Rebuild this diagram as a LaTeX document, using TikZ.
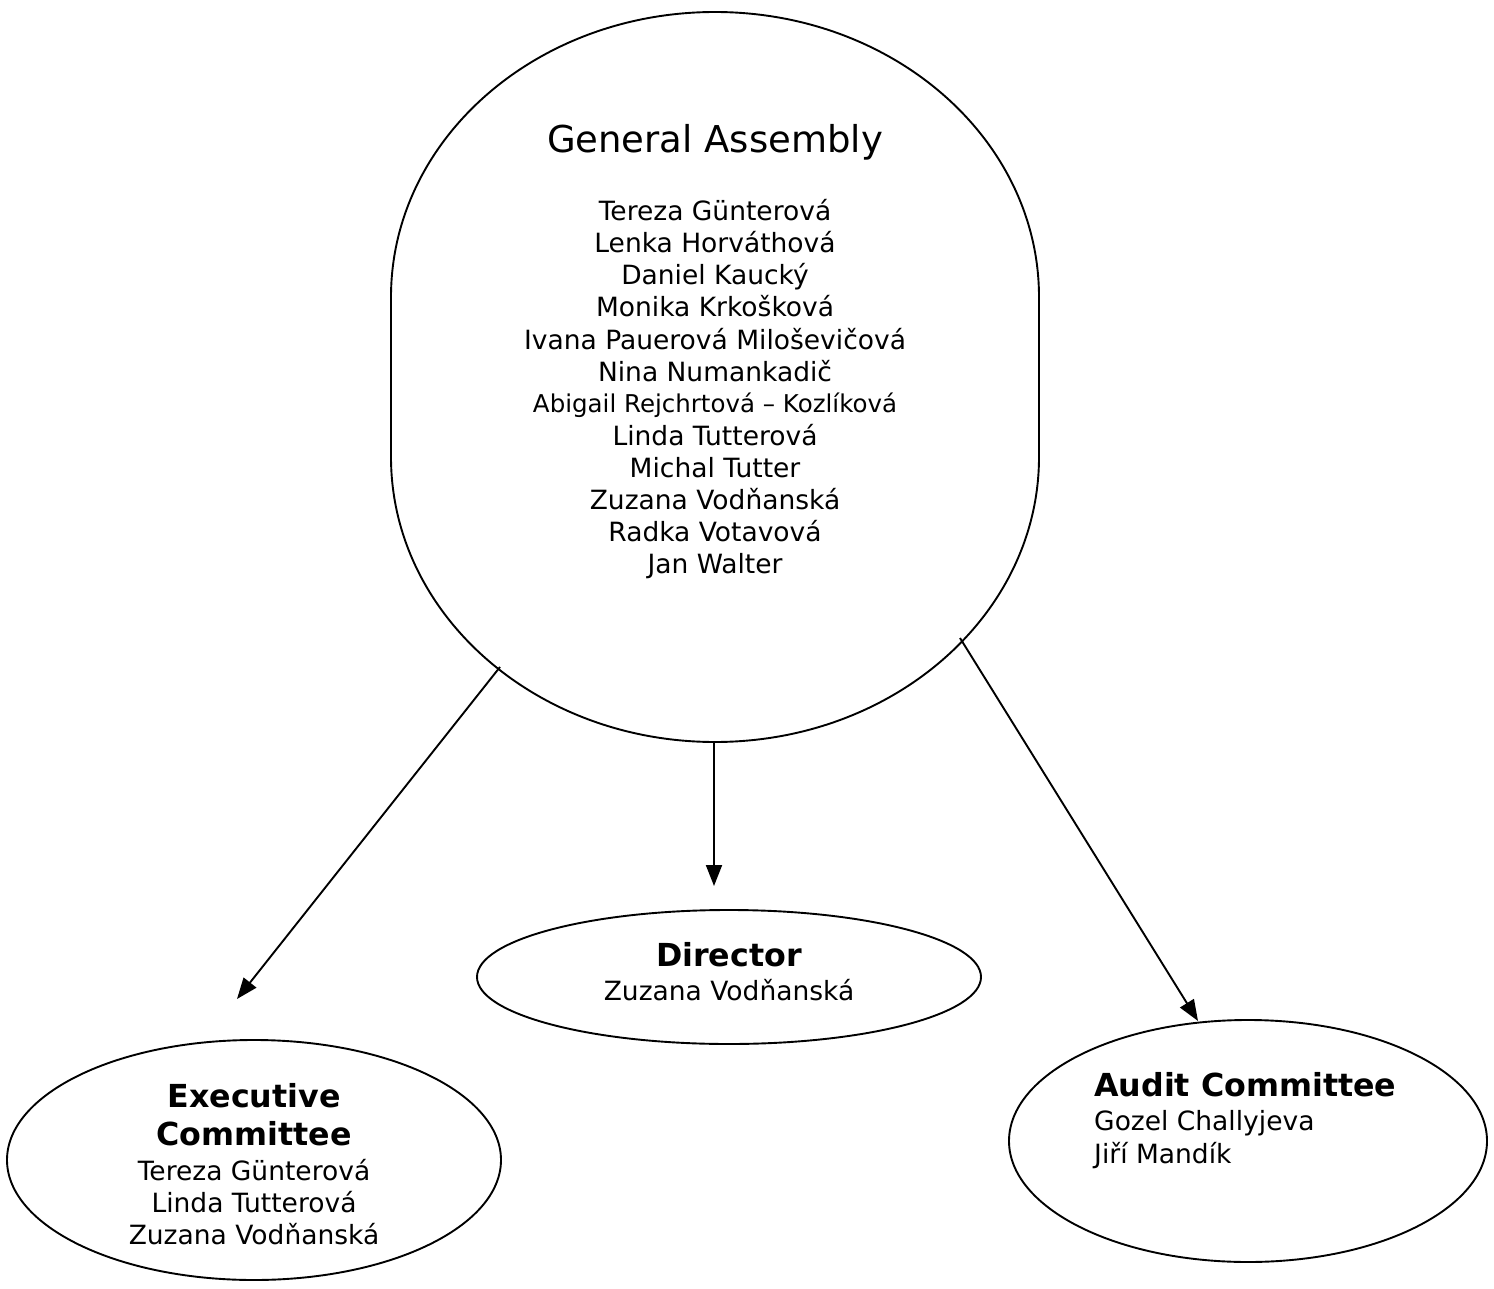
\documentclass[tikz,border=0pt]{standalone}
\usepackage{fontspec}
\setmainfont{DejaVu Sans}
\usetikzlibrary{arrows.meta}
\tikzset{
  outline/.style={draw=black, line width=1.9pt},
  conn/.style={draw=black, line width=1.9pt, -{Triangle[length=21pt,width=16pt]}},
  nm/.style={anchor=base, inner sep=0pt, font=\fontsize{26.5}{32}\selectfont},
  smallnm/.style={anchor=base, inner sep=0pt, font=\fontsize{24.5}{29}\selectfont},
  ttl/.style={anchor=base, inner sep=0pt, font=\fontsize{37}{44}\selectfont},
  hd/.style={anchor=base, inner sep=0pt, font=\fontsize{31.7}{38}\selectfont\bfseries},
}
\begin{document}
\begin{tikzpicture}[x=1pt, y=-1pt]
\useasboundingbox (0,0) rectangle (1494,1289);
% General Assembly shape
\draw[outline] (391,297) arc[start angle=180, end angle=360, x radius=324, y radius=285]
  -- (1039,457) arc[start angle=0, end angle=180, x radius=324, y radius=285] -- cycle;
\coordinate (gaL) at (500,667);
\coordinate (gaM) at (714,742);
\coordinate (gaR) at (960,638);

\node[ttl] (gatitle) at (715,153) {General Assembly};
\node[nm] (ga1) at (715,221) {Tereza Günterová};
\node[nm] (ga2) at (715,253) {Lenka Horváthová};
\node[nm] (ga3) at (715,285) {Daniel Kaucký};
\node[nm] (ga4) at (715,317) {Monika Krkošková};
\node[nm] (ga5) at (715,349) {Ivana Pauerová Miloševičová};
\node[nm] (ga6) at (715,381) {Nina Numankadič};
\node[smallnm] (ga7) at (715,412) {Abigail Rejchrtová – Kozlíková};
\node[nm] (ga8) at (715,445) {Linda Tutterová};
\node[nm] (ga9) at (715,477) {Michal Tutter};
\node[nm] (ga10) at (715,509) {Zuzana Vodňanská};
\node[nm] (ga11) at (715,541) {Radka Votavová};
\node[nm] (ga12) at (715,573) {Jan Walter};

% Director
\draw[outline] (729,977) ellipse[x radius=252, y radius=67];
\node[hd] (dirT) at (729,966) {Director};
\node[nm] (dir1) at (729,1000) {Zuzana Vodňanská};
\coordinate (dirTip) at (714,886);

% Executive
\draw[outline] (254,1160) ellipse[x radius=247, y radius=120];
\node[hd] (exT1) at (254,1107) {Executive};
\node[hd] (exT2) at (254,1145) {Committee};
\node[nm] (ex1) at (254,1180) {Tereza Günterová};
\node[nm] (ex2) at (254,1212) {Linda Tutterová};
\node[nm] (ex3) at (254,1244) {Zuzana Vodňanská};
\coordinate (exTip) at (237,999);

% Audit
\draw[outline] (1248,1141) ellipse[x radius=239, y radius=121];
\node[hd, anchor=base west] (auT) at (1094,1096) {Audit Committee};
\node[nm, anchor=base west] (au1) at (1094,1130) {Gozel Challyjeva};
\node[nm, anchor=base west] (au2) at (1094,1163) {Jiří Mandík};
\coordinate (auTip) at (1198,1021);

% connectors
\draw[conn] (gaL) -- (exTip);
\draw[conn] (gaM) -- (dirTip);
\draw[conn] (gaR) -- (auTip);
\end{tikzpicture}
\end{document}
